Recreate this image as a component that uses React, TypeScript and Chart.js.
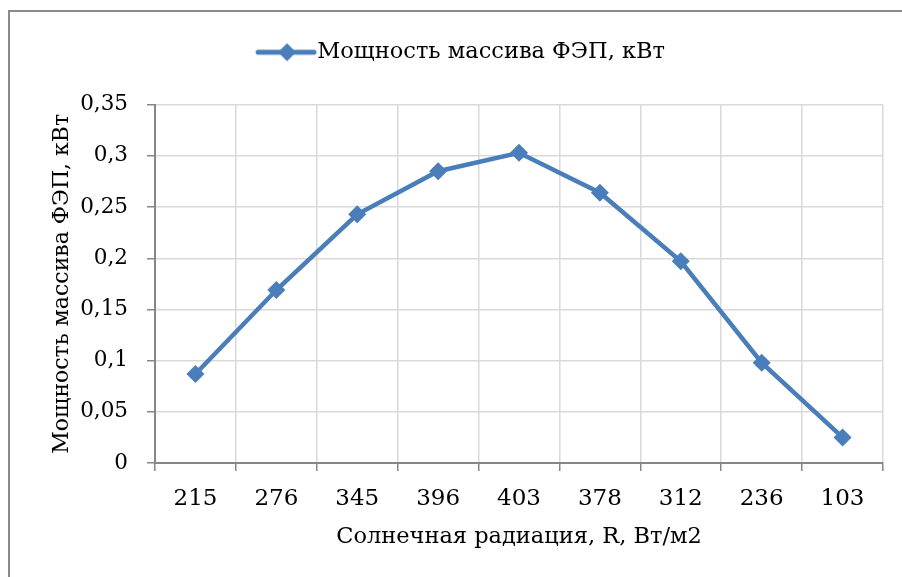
import React, { useEffect, useRef } from "react";
import { Chart, registerables } from "chart.js";

Chart.register(...registerables);

const categories = ["215", "276", "345", "396", "403", "378", "312", "236", "103"];
const powerValues = [0.087, 0.169, 0.243, 0.285, 0.303, 0.264, 0.197, 0.098, 0.025];
const yTickLabels = ["0", "0,05", "0,1", "0,15", "0,2", "0,25", "0,3", "0,35"];
const seriesLabel = "Мощность массива ФЭП, кВт";
const xTitle = "Солнечная радиация, R, Вт/м2";
const yTitle = "Мощность массива ФЭП, кВт";

const BLUE = "#4a7ebb";
const FONT = "'DejaVu Serif', serif";

function makeLegendIcon(): HTMLCanvasElement {
  const c = document.createElement("canvas");
  c.width = 140;
  c.height = 22;
  const ctx = c.getContext("2d")!;
  ctx.strokeStyle = BLUE;
  ctx.lineWidth = 5;
  ctx.lineCap = "round";
  ctx.beginPath();
  ctx.moveTo(61, 11);
  ctx.lineTo(117, 11);
  ctx.stroke();
  ctx.fillStyle = BLUE;
  ctx.beginPath();
  ctx.moveTo(90, 2);
  ctx.lineTo(99, 11);
  ctx.lineTo(90, 20);
  ctx.lineTo(81, 11);
  ctx.closePath();
  ctx.fill();
  return c;
}

export default function App() {
  const ref = useRef<HTMLCanvasElement | null>(null);

  useEffect(() => {
    document.documentElement.style.overflow = "hidden";
    document.body.style.overflow = "hidden";
    if (!ref.current) return;
    const icon = makeLegendIcon();
    const chart = new Chart(ref.current, {
      type: "line",
      data: {
        labels: categories,
        datasets: [
          {
            label: seriesLabel,
            data: powerValues,
            borderColor: BLUE,
            backgroundColor: BLUE,
            borderWidth: 4.5,
            pointStyle: "rectRot",
            pointRadius: 9,
            pointBackgroundColor: BLUE,
            pointBorderColor: BLUE,
            pointBorderWidth: 0,
            tension: 0,
          },
        ],
      },
      options: {
        animation: false,
        responsive: true,
        maintainAspectRatio: false,
        layout: { padding: { top: -11, left: 0, right: 19, bottom: 0 } },
        plugins: {
          tooltip: { enabled: false },
          title: {
            display: true,
            text: " ",
            weight: 500,
            font: { size: 1 },
            padding: { top: 15, bottom: 15 },
          } as any,
          legend: {
            position: "top",
            labels: {
              color: "#000",
              font: { family: FONT, size: 22.5 },
              usePointStyle: true,
              pointStyleWidth: 78,
              padding: 40,
              generateLabels: () => [
                {
                  text: seriesLabel,
                  pointStyle: icon,
                  fillStyle: BLUE,
                  strokeStyle: BLUE,
                  lineWidth: 0,
                  hidden: false,
                  datasetIndex: 0,
                  fontColor: "#000",
                } as any,
              ],
            },
          },
        },
        scales: {
          x: {
            type: "category",
            offset: true,
            grid: {
              display: true,
              offset: true,
              color: "#d9d9d9",
              lineWidth: 1.5,
              tickColor: "#868686",
              tickLength: 8,
              drawTicks: true,
            },
            border: { display: true, color: "#868686", width: 2 },
            ticks: {
              color: "#000",
              font: { family: FONT, size: 23 },
              padding: 14,
              maxRotation: 0,
              autoSkip: false,
            },
            title: {
              display: true,
              text: xTitle,
              color: "#000",
              font: { family: FONT, size: 22.5 },
              padding: { top: 4, bottom: 26 },
            },
            afterFit: (s: any) => {
              s.height = 114;
            },
          },
          y: {
            min: 0,
            max: 0.35,
            grid: {
              color: "#d9d9d9",
              lineWidth: 1.5,
              tickColor: "#868686",
              tickLength: 8,
            },
            border: { display: true, color: "#868686", width: 2 },
            ticks: {
              stepSize: 0.05,
              color: "#000",
              font: { family: FONT, size: 21.5 },
              padding: 19,
              callback: (_v: any, i: number) => yTickLabels[i] ?? "",
            },
            title: {
              display: true,
              text: yTitle,
              color: "#000",
              font: { family: FONT, size: 22 },
              padding: { top: 39, bottom: 0 },
            },
            afterFit: (s: any) => {
              s.width = 145;
            },
          },
        },
      },
    });
    return () => chart.destroy();
  }, []);

  return (
    <div
      style={{
        position: "fixed",
        left: 8,
        top: 10,
        width: 894,
        height: 567,
        boxSizing: "border-box",
        borderLeft: "2px solid #8a8a8a",
        borderTop: "2px solid #8a8a8a",
        background: "#fff",
        overflow: "hidden",
      }}
    >
      <div style={{ position: "relative", width: 892, height: 565 }}>
        <canvas ref={ref} />
      </div>
    </div>
  );
}
